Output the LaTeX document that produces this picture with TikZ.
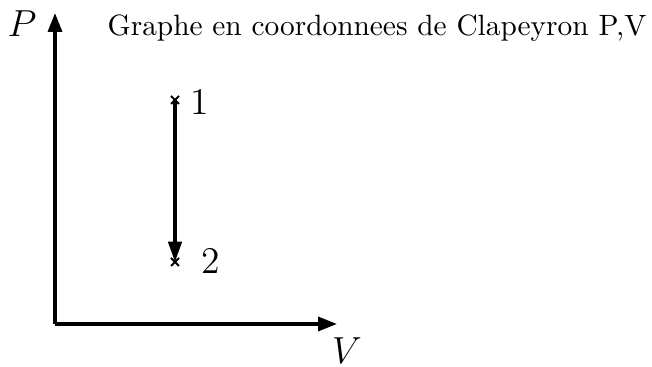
\documentclass[tikz,border=0pt]{standalone}
\usepackage{tikz}
\usetikzlibrary{arrows.meta}

\begin{document}
\begin{tikzpicture}[
  x=0.344pt,y=0.344pt,
  axis/.style={-{Triangle[length=6.5pt,width=4.8pt]},line width=1.15pt},
  trans/.style={-{Triangle[length=7pt,width=4.6pt]},line width=1.15pt},
  crossmark/.style={line width=0.7pt},
  lbl/.style={font=\large,scale=1.08,inner sep=0pt}
]
  \useasboundingbox (0,0) rectangle (652,367);
  % axes
  \coordinate (O) at (55,43);
  \coordinate (Ptop) at (55,354);
  \coordinate (Vend) at (337,43);
  \draw[axis] (O)--(Ptop);
  \draw[axis] (O)--(Vend);
  \node[lbl] (Plab) at (22,343) {$P$};
  \node[lbl] (Vlab) at (347,16) {$V$};
  \node[inner sep=0pt,scale=1.01] (title) at (377,339) {Graphe en coordonnees de Clapeyron P,V};
  % states
  \coordinate (s1) at (175,267);
  \coordinate (s2) at (175,105);
  \foreach \s in {s1,s2}
    \draw[crossmark] ([shift={(-4,-4)}]\s)--([shift={(4,4)}]\s)
                ([shift={(-4,4)}]\s)--([shift={(4,-4)}]\s);
  \node[lbl] (n1) at (200,265) {1};
  \node[lbl] (n2) at (211,106) {2};
  \draw[trans] (s1)--(s2);
\end{tikzpicture}
\end{document}
